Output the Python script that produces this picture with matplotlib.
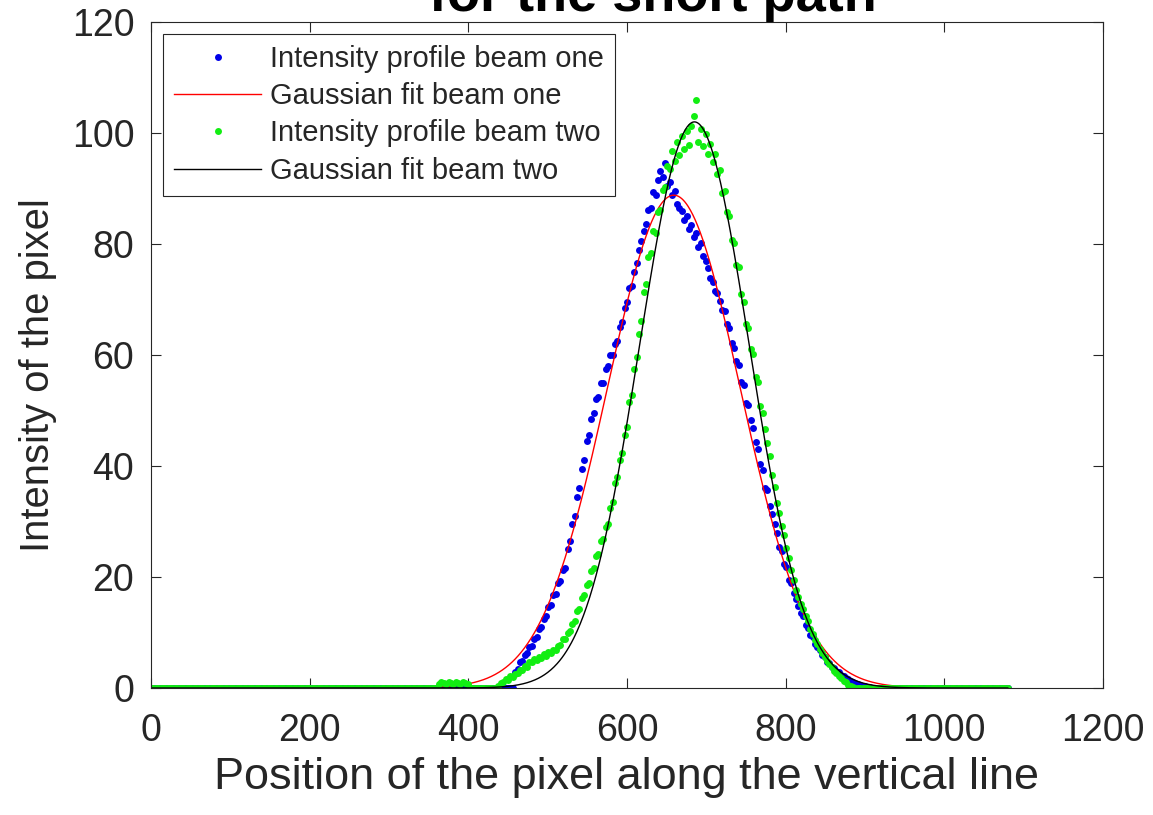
import numpy as np
import matplotlib
matplotlib.use('Agg')
import matplotlib.pyplot as plt

plt.rcParams['font.family'] = ['Liberation Sans', 'DejaVu Sans']

# profiles are read every 3 pixels along the line (0 .. 1080)
step = 3
n_samples = 361

# beam one, non zero part starting at pixel 459
start_one = 459
active_one = [2.8, 3.5, 4.6, 4.9, 5.9, 6.3, 7.4, 7.6, 8.9, 9.1,
              10.6, 11.0, 12.5, 12.9, 14.6, 14.9, 16.8, 16.9, 18.9, 19.3,
              21.2, 21.6, 25.0, 26.5, 29.5, 31.0, 34.5, 36.0, 39.5, 41.0,
              44.5, 45.5, 48.5, 49.5, 52.0, 52.5, 55.0, 55.0, 57.5, 58.0,
              60.0, 60.0, 62.0, 62.5, 65.0, 66.0, 68.5, 69.5, 72.0, 72.5,
              75.0, 76.5, 79.0, 80.5, 82.4, 83.6, 86.1, 86.5, 89.3, 88.8,
              91.6, 93.2, 92.1, 94.6, 90.4, 91.2, 88.9, 89.6, 87.2, 86.4,
              85.9, 84.3, 85.1, 82.7, 83.4, 81.2, 81.9, 79.4, 80.1, 77.8,
              76.9, 75.6, 73.8, 73.1, 71.6, 71.2, 69.8, 68.1, 67.9, 65.6,
              64.8, 62.1, 61.3, 58.9, 58.2, 55.1, 54.6, 51.4, 51.0, 48.2,
              46.9, 44.3, 43.1, 40.4, 39.2, 36.1, 35.6, 32.8, 31.3, 29.6,
              27.9, 25.4, 24.6, 22.3, 21.8, 19.4, 18.9, 17.1, 16.0, 14.8,
              13.5, 12.9, 11.4, 10.9, 9.6, 9.1, 8.0, 7.4, 6.9, 5.9,
              5.6, 4.7, 4.5, 3.8, 3.6, 3.0, 2.9, 2.4, 2.2, 1.8,
              1.6, 1.2, 1.1, 0.9, 0.7, 0.5, 0.4, 0.3, 0.2, 0.1]

# beam two, small plateau and then the main profile from pixel 438
plateau_start_two = 363
plateau_two = [0.8, 1.0, 0.9, 0.8, 1.1, 0.9, 0.8, 1.0, 0.9, 0.8, 1.0, 0.9, 0.8]
start_two = 438
active_two = [0.4, 0.9, 1.1, 1.6, 1.5, 2.2, 1.9, 2.6, 2.7, 3.3,
              3.2, 3.9, 3.8, 4.7, 4.6, 5.3, 5.0, 5.6, 5.4, 6.1,
              5.8, 6.4, 6.3, 6.9, 6.8, 7.6, 7.7, 8.8, 8.9, 9.9,
              10.2, 11.6, 12.0, 13.9, 14.2, 16.3, 16.7, 18.6, 19.0, 21.1,
              21.6, 23.7, 24.2, 26.4, 26.9, 29.0, 29.6, 32.4, 33.6, 36.9,
              38.0, 41.1, 42.4, 45.6, 47.1, 51.6, 52.8, 57.5, 59.6, 63.8,
              66.1, 71.4, 72.8, 77.6, 78.4, 82.3, 81.9, 85.7, 86.2, 89.8,
              90.3, 94.1, 93.6, 96.8, 94.9, 98.3, 96.1, 99.4, 97.2, 100.3,
              97.8, 101.2, 103.1, 106.0, 98.4, 100.7, 97.6, 99.8, 96.2, 98.1,
              94.8, 96.3, 92.6, 93.4, 89.1, 89.6, 85.7, 85.1, 80.8, 80.2,
              76.3, 75.8, 71.0, 69.6, 65.6, 64.8, 61.0, 60.2, 56.0, 55.1,
              50.8, 49.6, 46.6, 44.1, 41.8, 38.4, 36.2, 33.4, 31.5, 29.1,
              27.6, 25.2, 23.5, 21.3, 19.4, 17.6, 16.4, 15.1, 14.2, 12.9,
              12.0, 10.7, 9.8, 8.7, 7.9, 7.1, 6.3, 5.6, 4.9, 4.3,
              3.7, 3.1, 2.7, 2.1, 1.8, 1.3, 1.0, 0.5, 0.3, 0.1]

# gaussian fit results: amplitude, centre, sigma
fit_one = [88.8, 659, 84]
fit_two = [102, 685, 69]

labels = ['Intensity profile beam one', 'Gaussian fit beam one',
          'Intensity profile beam two', 'Gaussian fit beam two']


def build_profile(pieces):
    profile = np.zeros(n_samples)
    for start, values in pieces:
        i = start // step
        profile[i:i + len(values)] = values
    return profile


def gauss(x, p):
    return p[0] * np.exp(-(x - p[1]) ** 2 / (2 * p[2] ** 2))


pos = np.arange(n_samples) * step
beam_one = build_profile([(start_one, active_one)])
beam_two = build_profile([(plateau_start_two, plateau_two), (start_two, active_two)])
x_fit = np.arange(0, 1081)

text_col = '#262626'
fig = plt.figure(figsize=(11.53, 8.15), dpi=100)
ax = fig.add_axes([151 / 1153, 1 - 688 / 815, 952 / 1153, 666 / 815])

ax.plot(pos, beam_one, 'o', color='#0000e8', ms=5, mew=0, label=labels[0])
ax.plot(x_fit, gauss(x_fit, fit_one), '-', color='red', lw=1.0, label=labels[1])
ax.plot(pos, beam_two, 'o', color='#12ee12', ms=5, mew=0, label=labels[2])
ax.plot(x_fit, gauss(x_fit, fit_two), '-', color='black', lw=1.0, label=labels[3])

ax.set_xlim(0, 1200)
ax.set_ylim(0, 120)
ax.set_xticks(range(0, 1201, 200))
ax.set_yticks(range(0, 121, 20))
ax.tick_params(direction='in', length=7, width=0.8, top=True, right=True,
               labelsize=27, colors=text_col)
ax.tick_params(axis='x', pad=18)
ax.tick_params(axis='y', pad=12)
for s in ax.spines.values():
    s.set_color(text_col)
    s.set_linewidth(0.8)

ax.set_xlabel('Position of the pixel along the vertical line', fontsize=32.4, color=text_col, labelpad=6)
ax.set_ylabel('Intensity of the pixel', fontsize=28.8, color=text_col, va='center')
ax.yaxis.set_label_coords(-113 / 952, 0.47)

fig.text(653 / 1153, 1 - 11 / 815, 'for the short path', ha='center', va='baseline',
         fontsize=39, fontweight='bold', color='black')

leg = ax.legend(loc='upper left', fontsize=21, frameon=True, fancybox=False,
                handlelength=3, handletextpad=0.3, labelspacing=0.32,
                borderaxespad=0.4, borderpad=0.38, markerscale=1.0)
leg.get_frame().set_edgecolor(text_col)
leg.get_frame().set_linewidth(0.8)
leg.get_frame().set_alpha(1)
for t in leg.get_texts():
    t.set_color(text_col)

fig.savefig('out.png', dpi=100)
